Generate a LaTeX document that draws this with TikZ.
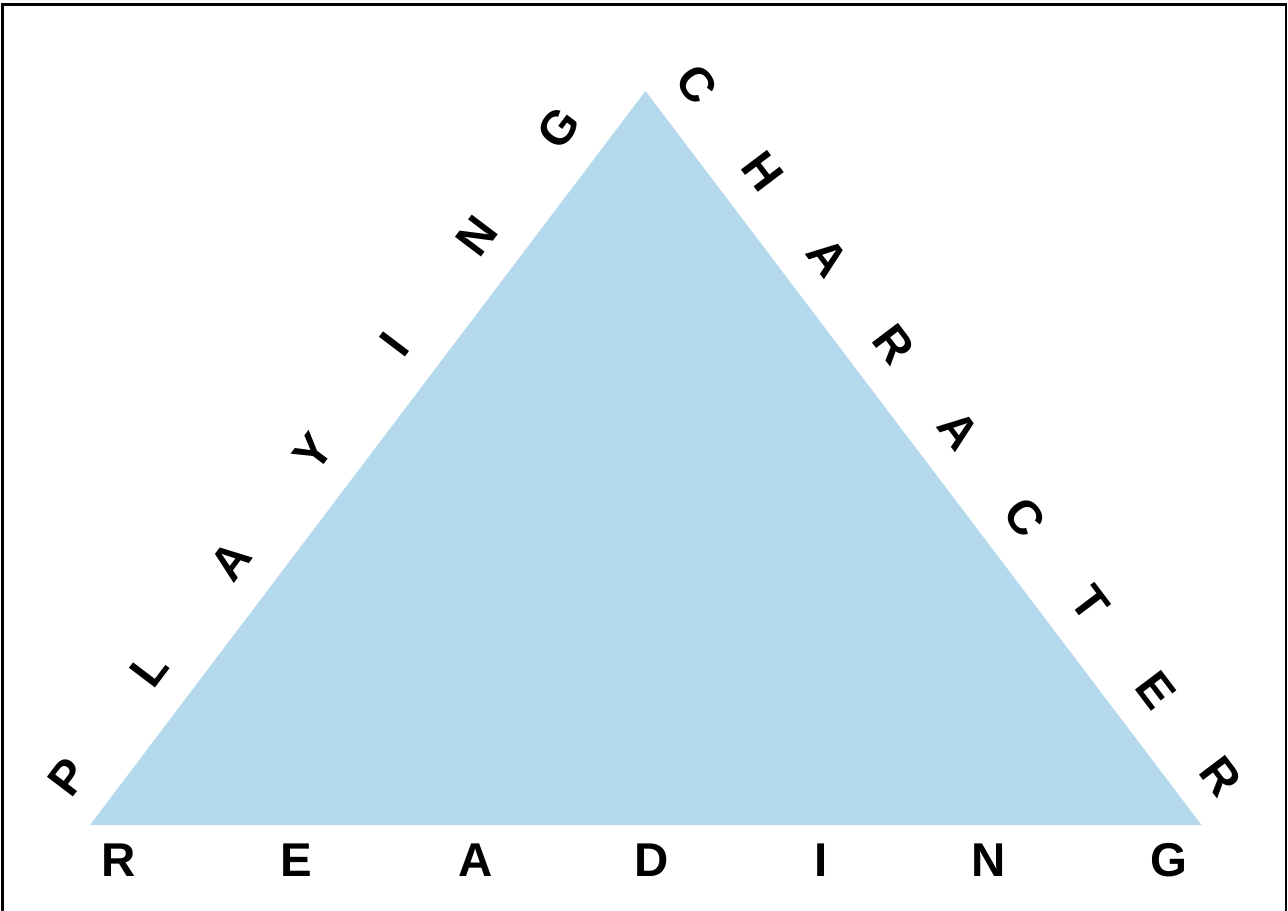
\documentclass[tikz,border=0pt]{standalone}
\usepackage{fontspec}
\setmainfont{Liberation Sans}
\usetikzlibrary{calc}

\definecolor{skyfill}{RGB}{180,217,236}

\begin{document}
\begin{tikzpicture}[x=0.02cm,y=-0.02cm,
  lt/.style={font=\fontsize{27}{27}\selectfont\bfseries,inner sep=0pt},
  frame/.style={draw=black,line width=1.5pt},
  tri/.style={fill=skyfill,draw=none}]
\useasboundingbox (0,0) rectangle (1288,910);
\draw[frame] (2.5,4.5) rectangle (1286,914);
% triangle corners
\coordinate (bl) at (90,825);
\coordinate (ap) at (645.5,91);
\coordinate (br) at (1201.5,825);
\fill[tri] (bl) -- (ap) -- (br) -- cycle;
% left side
\foreach \ch [count=\i,evaluate=\i as \f using (25+(\i-1)*135.5)/920.2] in {P,L,A,Y,I,N,G}
  \node[lt,rotate=52.9] (pl\i) at ($(bl)!\f!(ap)!0.94cm!90:(ap)$) {\ch};
% right side
\foreach \ch [count=\i,evaluate=\i as \f using (26+(\i-1)*108.5)/920.8] in {C,H,A,R,A,C,T,E,R}
  \node[lt,rotate=-52.9] (ch\i) at ($(ap)!\f!(br)!0.9cm!90:(br)$) {\ch};
% base
\foreach \ch/\x [count=\i] in {R/118.5,E/296,A/476,D/652,I/821,N/989,G/1169}
  \node[lt] (rd\i) at (\x,860) {\ch};
\end{tikzpicture}
\end{document}
